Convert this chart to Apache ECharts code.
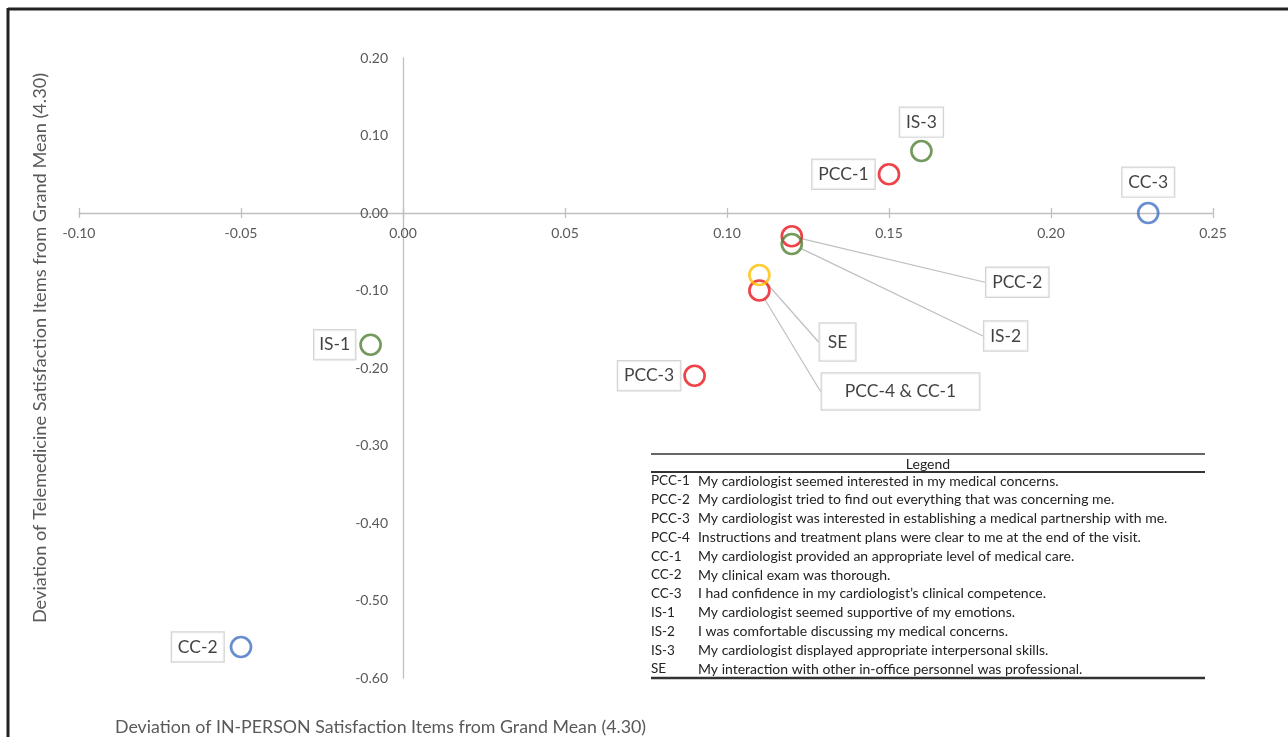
<!DOCTYPE html>
<html>
<head>
<meta charset="utf-8">
<script src="https://cdn.jsdelivr.net/npm/echarts@6/dist/echarts.min.js"></script>
<style>html,body{margin:0;padding:0;background:#fff}#c{width:1288px;height:737px}</style>
</head>
<body>
<div id="c"></div>
<script>
// ---- data ----
const itemLabels = ['PCC-2','IS-2','PCC-4 & CC-1','SE','IS-3','PCC-1','CC-3','PCC-3','IS-1','CC-2'];
const inPerson   = [0.12, 0.12, 0.11, 0.11, 0.16, 0.15, 0.23, 0.09, -0.01, -0.05];
const telemed    = [-0.03, -0.04, -0.10, -0.08, 0.08, 0.05, 0.00, -0.21, -0.17, -0.56];
const groups     = ['PCC','IS','PCC','SE','IS','PCC','CC','PCC','IS','CC'];
const xRange = [-0.10, 0.25];
const yRange = [-0.60, 0.20];
const legendCodes = ['PCC-1','PCC-2','PCC-3','PCC-4','CC-1','CC-2','CC-3','IS-1','IS-2','IS-3','SE'];
const legendTexts = [
  'My cardiologist seemed interested in my medical concerns.',
  'My cardiologist tried to find out everything that was concerning me.',
  'My cardiologist was interested in establishing a medical partnership with me.',
  'Instructions and treatment plans were clear to me at the end of the visit.',
  'My cardiologist provided an appropriate level of medical care.',
  'My clinical exam was thorough.',
  'I had confidence in my cardiologist\u2019s clinical competence.',
  'My cardiologist seemed supportive of my emotions.',
  'I was comfortable discussing my medical concerns.',
  'My cardiologist displayed appropriate interpersonal skills.',
  'My interaction with other in-office personnel was professional.'
];
const xTitle = 'Deviation of IN-PERSON Satisfaction Items from Grand Mean (4.30)';
const yTitle = 'Deviation of Telemedicine Satisfaction Items from Grand Mean (4.30)';

// ---- styles / layout ----
const W = 1288, H = 737;
const G = {left:79, right:75, top:58, bottom:59};
const groupColor = {PCC:'#e8141b', CC:'#4472c4', IS:'#538135', SE:'#ffc000'};
const FONT = 'Lato, "Open Sans", sans-serif';
const place = {
  'IS-3':  {position:'top', distance:3, padding:[6,6,5,6]},
  'PCC-1': {position:'left', distance:3, padding:[6,6,5,6]},
  'CC-3':  {position:'top', distance:5, padding:[6,6,5,6]},
  'PCC-3': {position:'left', distance:3, padding:[6,6,5,6]},
  'IS-1':  {position:'left', distance:4, padding:[6,5,5,5]},
  'CC-2':  {position:'left', distance:6, padding:[6,6,5,6]},
  'PCC-2': {position:'right', distance:5, padding:[6,6,5,6], dx:178, dy:46, line:true},
  'IS-2':  {position:'right', distance:5, padding:[6,6,5,6], dx:176, dy:92, line:true},
  'SE':    {position:'right', distance:5, padding:[10,8,9,8], dx:44, dy:67, line:true},
  'PCC-4 & CC-1': {position:'right', distance:5, padding:[9,23,9,23], dx:46, dy:101, line:true}
};

// axes cross at zero: offsets derived from scale
const plotW = W - G.left - G.right, plotH = H - G.top - G.bottom;
const zeroX = G.left + (0 - xRange[0]) / (xRange[1] - xRange[0]) * plotW;
const zeroY = G.top + (yRange[1] - 0) / (yRange[1] - yRange[0]) * plotH;
const xAxisOffset = -((H - G.bottom) - zeroY);
const yAxisOffset = -(zeroX - G.left);

const data = itemLabels.map((name, i) => {
  const p = place[name];
  return {
    name: name,
    value: [inPerson[i], telemed[i]],
    itemStyle: {color: 'rgba(255,255,255,0)', borderColor: groupColor[groups[i]], borderWidth: 2.7},
    label: {position: p.position, distance: p.distance, padding: p.padding},
    labelLine: {show: !!p.line}
  };
});

const legendX = 651, legendCodeW = 47, legendTop = 454, rowH = 18.8, firstRow = 481;
const LF = '14px ' + FONT;
const graphics = [
  {type:'line', shape:{x1:8, y1:9, x2:W, y2:9}, style:{stroke:'#222', lineWidth:3}},
  {type:'line', shape:{x1:8, y1:8, x2:8, y2:H}, style:{stroke:'#222', lineWidth:3}},
  {type:'text', x:115, y:727, style:{text:xTitle, font:'17.8px ' + FONT, fill:'#595959', verticalAlign:'middle'}},
  {type:'text', x:40, y:348, rotation:Math.PI/2,
    style:{text:yTitle, font:'18.2px ' + FONT, fill:'#595959', align:'center', verticalAlign:'middle'}},
  {type:'line', shape:{x1:legendX, y1:legendTop, x2:1205, y2:legendTop}, style:{stroke:'#333', lineWidth:1.5}},
  {type:'text', x:928, y:464, style:{text:'Legend', font:LF, fill:'#222', align:'center', verticalAlign:'middle'}},
  {type:'line', shape:{x1:legendX, y1:472, x2:1205, y2:472}, style:{stroke:'#333', lineWidth:2}},
  {type:'line', shape:{x1:legendX, y1:678, x2:1205, y2:678}, style:{stroke:'#333', lineWidth:2.5}}
];
legendCodes.forEach((c, i) => {
  const y = firstRow + i * rowH;
  graphics.push({type:'text', x:legendX, y:y, style:{text:c, font:'13.5px ' + FONT, fill:'#222', verticalAlign:'middle'}});
  graphics.push({type:'text', x:legendX + legendCodeW, y:y, style:{text:legendTexts[i], font:LF, fill:'#222', verticalAlign:'middle'}});
});

const axisLabelStyle = {color:'#595959', fontSize:14, fontFamily:FONT};
const chart = echarts.init(document.getElementById('c'), null, {renderer:'canvas'});
chart.setOption({
  animation: false,
  backgroundColor: '#fff',
  grid: {left:G.left, right:G.right, top:G.top, bottom:G.bottom, containLabel:false},
  xAxis: [{
    type:'value', min:xRange[0], max:xRange[1], interval:0.05,
    position:'bottom', offset:xAxisOffset,
    axisLine:{show:true, onZero:false, lineStyle:{color:'#bfbfbf', width:1.3}},
    axisTick:{show:true, length:5, lineStyle:{color:'#bfbfbf', width:1.3}},
    axisLabel:Object.assign({margin:13, formatter:v => v.toFixed(2)}, axisLabelStyle),
    splitLine:{show:false}
  }, {
    type:'value', min:xRange[0], max:xRange[1], interval:0.05,
    position:'bottom', offset:xAxisOffset,
    axisLine:{show:false, onZero:false},
    axisTick:{show:true, inside:true, length:5, lineStyle:{color:'#bfbfbf', width:1.3}},
    axisLabel:{show:false}, splitLine:{show:false}
  }],
  yAxis: {
    type:'value', min:yRange[0], max:yRange[1], interval:0.10,
    position:'left', offset:yAxisOffset,
    axisLine:{show:true, onZero:false, lineStyle:{color:'#bfbfbf', width:1.3}},
    axisTick:{show:false},
    axisLabel:Object.assign({margin:15, formatter:v => v.toFixed(2)}, axisLabelStyle),
    splitLine:{show:false}
  },
  series: [{
    type:'scatter',
    symbol:'circle',
    symbolSize:20,
    data:data,
    label:{
      show:true, formatter:'{b}', color:'#111', fontSize:17.5, fontFamily:FONT,
      backgroundColor:'#fff', borderColor:'#c9c9c9', borderWidth:1.2
    },
    labelLine:{lineStyle:{color:'#bfbfbf', width:1.2}},
    labelLayout: function (params) {
      const p = place[itemLabels[params.dataIndex]];
      if (p && p.line) return {dx:p.dx, dy:p.dy};
      return {};
    },
    emphasis:{disabled:true}
  }],
  graphic: graphics
});
</script>
</body>
</html>
